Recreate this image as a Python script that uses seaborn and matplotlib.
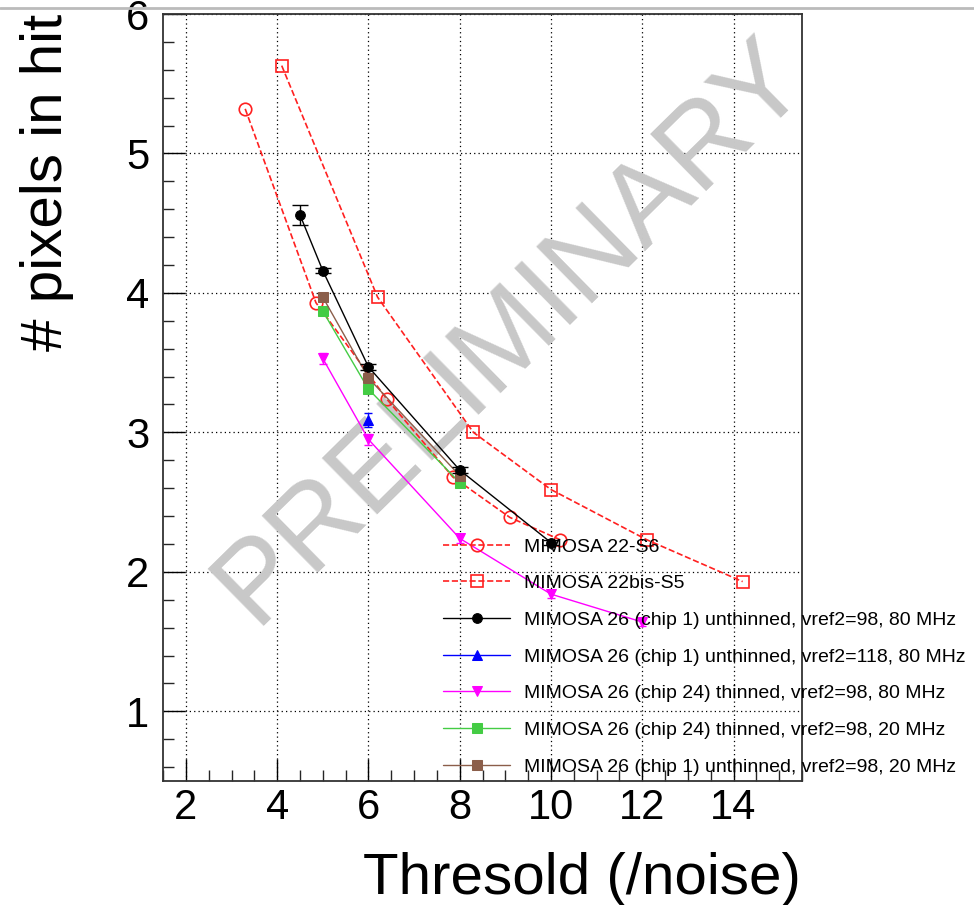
import numpy as np
import pandas as pd
import matplotlib
matplotlib.use("Agg")
import matplotlib.pyplot as plt
import seaborn as sns
from matplotlib.ticker import MultipleLocator

sns.set_style("white")
plt.rcParams['font.family'] = ['Liberation Sans', 'DejaVu Sans']
plt.rcParams['text.color'] = 'black'

# MIMOSA 22-S6
s6_x = [3.3, 4.85, 6.4, 7.85, 9.1, 10.2]
s6_y = [5.32, 3.93, 3.24, 2.68, 2.39, 2.23]
# MIMOSA 22bis-S5
s5_x = [4.1, 6.2, 8.3, 10.0, 12.1, 14.2]
s5_y = [5.63, 3.97, 3.00, 2.59, 2.23, 1.93]
# MIMOSA 26 chip 1 unthinned, vref2=98, 80 MHz
c1_x = [4.5, 5, 6, 8, 10]
c1_y = [4.56, 4.16, 3.47, 2.73, 2.21]
c1_err = [0.07, 0.02, 0.02, 0.02, 0.02]
# MIMOSA 26 chip 1 unthinned, vref2=118, 80 MHz
c1b_x = [6]
c1b_y = [3.09]
c1b_err = [0.05]
# MIMOSA 26 chip 24 thinned, vref2=98, 80 MHz
c24_x = [5, 6, 8, 10, 12]
c24_y = [3.53, 2.95, 2.24, 1.84, 1.64]
c24_err = [0.04, 0.04, 0.03, 0.03, 0.03]
# MIMOSA 26 chip 24 thinned, vref2=98, 20 MHz
c24s_x = [5, 6, 8]
c24s_y = [3.87, 3.31, 2.64]
# MIMOSA 26 chip 1 unthinned, vref2=98, 20 MHz
c1s_x = [5, 6, 8]
c1s_y = [3.97, 3.39, 2.69]

labels = [
    "MIMOSA 22-S6",
    "MIMOSA 22bis-S5",
    "MIMOSA 26 (chip 1) unthinned, vref2=98, 80 MHz",
    "MIMOSA 26 (chip 1) unthinned, vref2=118, 80 MHz",
    "MIMOSA 26 (chip 24) thinned, vref2=98, 80 MHz",
    "MIMOSA 26 (chip 24) thinned, vref2=98, 20 MHz",
    "MIMOSA 26 (chip 1) unthinned, vref2=98, 20 MHz",
]

fig = plt.figure(figsize=(9.74, 9.05), dpi=100)
ax = fig.add_axes([0.1674, 0.137, 0.656, 0.8475])

# watermark
ax.text(0.545, 0.585, "PRELIMINARY", transform=ax.transAxes, fontsize=83,
        color='#c8c8c8', rotation=44.5, ha='center', va='center', zorder=1.5)

red = '#ff2020'
sns.lineplot(x=s6_x, y=s6_y, ax=ax, color=red, linestyle='--', lw=1.2,
             dashes=(3, 3), marker='o', markersize=9, markerfacecolor='none',
             markeredgecolor=red, markeredgewidth=1.2, label=labels[0], zorder=3)
sns.lineplot(x=s5_x, y=s5_y, ax=ax, color=red, linestyle='--', lw=1.2,
             dashes=(3, 3), marker='s', markersize=9, markerfacecolor='none',
             markeredgecolor=red, markeredgewidth=1.2, label=labels[1], zorder=3)
sns.lineplot(x=c1_x, y=c1_y, ax=ax, color='black', lw=1.0, marker='o',
             markersize=7, markeredgecolor='black', label=labels[2], zorder=5)
sns.lineplot(x=c1b_x, y=c1b_y, ax=ax, color='blue', lw=1.0, marker='^',
             markersize=7, markeredgecolor='blue', label=labels[3], zorder=5)
sns.lineplot(x=c24_x, y=c24_y, ax=ax, color='magenta', lw=1.0, marker='v',
             markersize=7, markeredgecolor='magenta', label=labels[4], zorder=5)
sns.lineplot(x=c24s_x, y=c24s_y, ax=ax, color='#44cc44', lw=1.0, marker='s',
             markersize=7, markeredgecolor='#44cc44', label=labels[5], zorder=4)
sns.lineplot(x=c1s_x, y=c1s_y, ax=ax, color='#8b5e4a', lw=1.0, marker='s',
             markersize=7, markeredgecolor='#8b5e4a', label=labels[6], zorder=4)

ax.errorbar(c1_x, c1_y, yerr=c1_err, fmt='none', ecolor='black', elinewidth=1,
            capsize=6, zorder=5)
ax.errorbar(c1b_x, c1b_y, yerr=c1b_err, fmt='none', ecolor='blue', elinewidth=1,
            capsize=3, zorder=5)
ax.errorbar(c24_x, c24_y, yerr=c24_err, fmt='none', ecolor='magenta', elinewidth=1,
            capsize=3, zorder=5)

ax.set_xlim(1.5, 15.5)
ax.set_ylim(0.5, 6.0)
ax.xaxis.set_major_locator(MultipleLocator(2))
ax.xaxis.set_minor_locator(MultipleLocator(0.5))
ax.yaxis.set_major_locator(MultipleLocator(1))
ax.yaxis.set_minor_locator(MultipleLocator(0.2))
ax.tick_params(axis='both', which='major', direction='in', length=16, width=1,
               labelsize=30, colors='black')
ax.tick_params(axis='x', which='major', pad=5)
ax.tick_params(axis='y', which='major', pad=10)
ax.tick_params(axis='both', which='minor', direction='in', length=8, width=1)
ax.tick_params(bottom=True, left=True, top=False, right=False, which='both')
ax.grid(True, which='major', color='black', linestyle=(0, (1, 2.5)), lw=0.9)
for sp in ax.spines.values():
    sp.set_color('#333333')
    sp.set_linewidth(1.3)

ax.set_xlabel("")
ax.set_ylabel("")
fig.text(0.822, 0.012, "Thresold (/noise)", fontsize=42, ha='right', va='baseline')
fig.text(0.048, 0.985, "# pixels in hit", fontsize=42, rotation=90, ha='center', va='top')

fig.lines.append(plt.Line2D([0, 1], [0.991, 0.991], transform=fig.transFigure,
                            color='#bbbbbb', lw=2))

leg = ax.legend(loc='upper left', bbox_to_anchor=(0.4548, 0.4055),
                bbox_transform=fig.transFigure, frameon=False, fontsize=14,
                handlelength=3.45, handletextpad=0.7, labelspacing=0.98,
                borderpad=0, borderaxespad=0)
for t in leg.get_texts():
    t.set_color('black')

fig.savefig("out.png", dpi=100)
